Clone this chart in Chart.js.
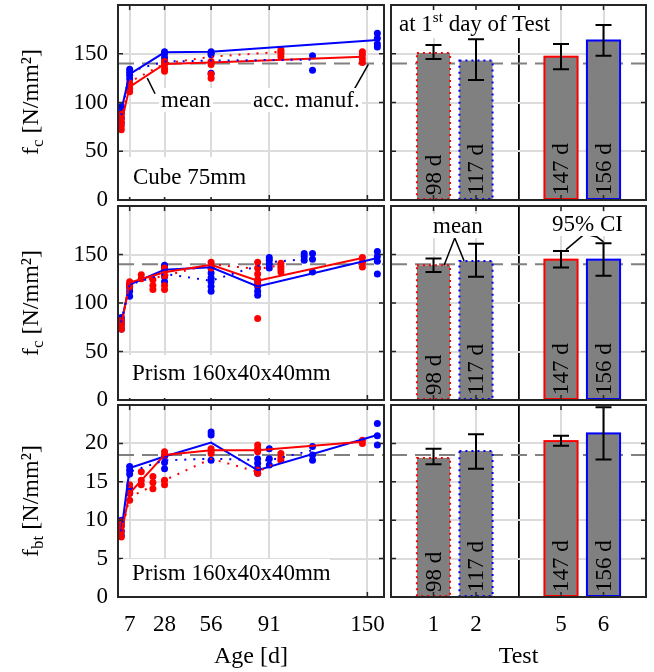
<!DOCTYPE html>
<html>
<head>
<meta charset="utf-8">
<script src="https://cdn.jsdelivr.net/npm/chart.js@4.4.1/dist/chart.umd.min.js"></script>
<style>
body { margin: 0; background: #fff; width: 654px; height: 672px; position: relative; overflow: hidden;
       font-family: 'Liberation Serif', 'Times New Roman', serif; }
canvas { position: absolute; }
.box { position: absolute; background: #fff; font-size: 23px; white-space: nowrap; color: #000; }
.yt { position: absolute; width: 200px; height: 30px; line-height: 30px; text-align: center;
      font-size: 24px; transform: rotate(-90deg); white-space: nowrap; }
.yt sub { font-size: 17px; vertical-align: -5px; }
sup { font-size: 15px; vertical-align: 9px; line-height: 0; }
</style>
</head>
<body>
<canvas id="bendAge" style="left:0;top:402px;width:386px;height:270px" width="386" height="270"></canvas>
<canvas id="bendTest" style="left:389px;top:402px;width:259px;height:270px" width="259" height="270"></canvas>
<canvas id="prismAge" style="left:0;top:203px;width:386px;height:213px" width="386" height="213"></canvas>
<canvas id="prismTest" style="left:389px;top:203px;width:259px;height:213px" width="259" height="213"></canvas>
<canvas id="cubeAge" style="left:0;top:0;width:386px;height:216px" width="386" height="216"></canvas>
<canvas id="cubeTest" style="left:389px;top:0;width:259px;height:216px" width="259" height="216"></canvas>

<div class="yt" style="left:-70px;top:87px">f<sub>c</sub> [N/mm²]</div>
<div class="yt" style="left:-70px;top:288px">f<sub>c</sub> [N/mm²]</div>
<div class="yt" style="left:-70px;top:486px">f<sub>bt</sub> [N/mm²]</div>

<div class="box" style="left:121px;top:157px;width:122px;height:40px;line-height:40px;padding-left:12px;box-sizing:border-box">Cube 75mm</div>
<div class="box" style="left:121px;top:355px;width:209px;height:43px;line-height:36px;padding-left:11px;box-sizing:border-box">Prism 160x40x40mm</div>
<div class="box" style="left:121px;top:559px;width:209px;height:37px;line-height:28px;padding-left:11px;box-sizing:border-box">Prism 160x40x40mm</div>

<div class="box" style="left:159px;top:88px;line-height:24px;padding:0 2px">mean</div>
<div class="box" style="left:251px;top:88px;line-height:24px;padding:0 2px">acc. manuf.</div>
<div class="box" style="left:396px;top:10px;line-height:28px;padding:0 3px">at 1<sup>st</sup> day of Test</div>
<div class="box" style="left:431px;top:214px;line-height:24px;padding:0 2px">mean</div>
<div class="box" style="left:550px;top:212px;line-height:24px;padding:0 2px">95% CI</div>

<script>
// ---- data ----
const ageTicks = [7, 28, 56, 91, 150];
const testLabels = ['', '1', '2', '', '5', '6', ''];
const testAges = ['98 d', '117 d', '147 d', '156 d'];

// Cube 75mm, f_c: mean curves per test (1, 2 dotted; 5, 6 solid)
const cubeT1Age = [2, 7, 28, 56, 98];
const cubeT1 = [82, 121, 140, 147, 152];
const cubeT2Age = [2, 7, 28, 56, 117];
const cubeT2 = [87, 132, 142, 143, 144];
const cubeT5Age = [2, 7, 28, 56, 147];
const cubeT5 = [79, 116, 139.5, 141, 147];
const cubeT6Age = [2, 7, 28, 56, 156];
const cubeT6 = [92, 129, 151.5, 152, 164];
// single specimens
const cubeRedAge = [2, 2, 2, 2, 2, 7, 7, 7, 7, 28, 28, 28, 28, 56, 56, 56, 56, 98, 98, 98, 98, 147, 147, 147, 147];
const cubeRed = [72, 76, 80, 84, 88, 111, 114, 118, 120, 132, 135, 139, 142, 125, 129, 139, 142, 147, 150, 152, 154, 141, 145, 149, 152];
const cubeBlueAge = [2, 2, 2, 2, 7, 7, 7, 7, 28, 28, 28, 28, 56, 56, 56, 56, 117, 117, 156, 156, 156, 156];
const cubeBlue = [79, 84, 90, 96, 124, 128, 131, 134, 142, 146, 150, 152, 130, 149, 151, 152, 133, 148, 157, 160, 166, 171];
// at 1st day of test: mean and 95% CI
const cubeMean = [150.7, 143, 147, 163.6];
const cubeLo = [144.6, 123, 134, 148];
const cubeHi = [159, 165, 160, 179.6];
const cubeRef = 140;

// Prism 160x40x40mm, f_c
const prismT1Age = [2, 7, 28, 56, 84, 98];
const prismT1 = [77, 121, 128, 140, 135, 139];
const prismT2Age = [2, 7, 28, 56, 91, 117];
const prismT2 = [80, 119, 130, 123, 142, 146];
const prismT5Age = [2, 7, 28, 56, 84, 147];
const prismT5 = [77, 121, 131.6, 139.5, 123, 146.3];
const prismT6Age = [2, 7, 28, 56, 84, 156];
const prismT6 = [80, 119, 134.4, 136.8, 117, 146.3];
const prismRedAge = [2, 2, 2, 2, 7, 7, 7, 14, 14, 21, 21, 21, 28, 28, 28, 28, 28, 56, 56, 56, 84, 84, 84, 84, 84, 84, 98, 98, 98, 98, 147, 147, 147];
const prismRed = [73, 76, 79, 82, 117, 119, 122, 125, 129, 114, 118, 124, 114, 118, 128, 133, 136, 136, 139, 142, 84, 119, 124, 130, 136, 142, 132, 135, 138, 141, 137, 142, 147];
const prismBlueAge = [2, 2, 2, 2, 7, 7, 7, 7, 28, 28, 28, 28, 28, 56, 56, 56, 56, 56, 56, 84, 84, 84, 84, 91, 91, 91, 91, 112, 112, 112, 117, 117, 117, 156, 156, 156, 156];
const prismBlue = [73, 78, 82, 85, 107, 112, 116, 119, 122, 127, 133, 136, 139, 112, 117, 122, 126, 131, 136, 108, 112, 117, 122, 136, 140, 144, 147, 144, 148, 151, 132, 145, 151, 130, 143, 148, 153];
const prismMean = [139, 143.4, 144.7, 144.7];
const prismLo = [132, 127, 136.6, 128];
const prismHi = [146, 161, 153.6, 161.7];
const prismRef = 140;

// Prism 160x40x40mm, f_bt
const bendT1Age = [2, 7, 28, 56, 84, 98];
const bendT1 = [8.3, 13, 15.2, 18, 16.3, 17.8];
const bendT2Age = [2, 7, 28, 56, 91, 117];
const bendT2 = [8.5, 16.3, 17.8, 18, 17.8, 19.1];
const bendT5Age = [2, 7, 28, 56, 84, 147];
const bendT5 = [8.3, 13.5, 18.5, 19.1, 19.1, 20.2];
const bendT6Age = [2, 7, 28, 56, 84, 156];
const bendT6 = [8.5, 16.8, 18.3, 20.1, 16.5, 21.1];
const bendRedAge = [2, 2, 2, 2, 7, 7, 7, 14, 14, 14, 21, 21, 21, 28, 28, 28, 28, 56, 56, 56, 84, 84, 84, 84, 84, 98, 98, 98, 147, 147];
const bendRed = [7.8, 8.5, 9.2, 9.8, 12.6, 13.5, 14.6, 14.6, 15.2, 16.3, 14.1, 14.9, 15.7, 14.6, 15.2, 18.5, 18.9, 18.7, 19.0, 19.3, 16.1, 16.5, 18.9, 19.3, 19.8, 17.8, 18.2, 18.7, 20.0, 20.4];
const bendBlueAge = [2, 2, 2, 2, 7, 7, 7, 7, 7, 28, 28, 28, 56, 56, 56, 84, 84, 84, 84, 91, 91, 91, 117, 117, 117, 156, 156, 156];
const bendBlue = [8.0, 8.6, 9.3, 10.0, 13.5, 14.1, 16.0, 16.5, 17.0, 16.7, 17.5, 18.3, 17.8, 21.1, 21.5, 16.1, 16.8, 17.4, 18.0, 17.2, 18.0, 19.3, 17.8, 18.5, 19.6, 19.8, 21.0, 22.6];
const bendMean = [18.1, 19.0, 20.3, 21.3];
const bendLo = [17.3, 16.7, 19.7, 17.9];
const bendHi = [19.3, 21.2, 21.0, 24.7];
const bendRef = 18.5;

// ---- style ----
const RED = '#ff0000', BLUE = '#0000ff', REF = '#808080', GRID = '#dcdcdc', FRAME = '#262626';
const barEdge = [RED, BLUE, RED, BLUE];
const barDotted = [true, true, false, false];
const barIdx = testLabels.map((l, i) => l ? i : -1).filter(i => i >= 0);

Chart.defaults.font.family = "'Liberation Serif', 'Times New Roman', serif";
Chart.defaults.font.size = 23;
Chart.defaults.color = '#000';
Chart.defaults.animation = false;

function pts(ages, vals) {
    return ages.map((a, i) => ({ x: a, y: vals[i] }));
}

// no extra room for half tick labels, the panels must line up
function noPad(s) {
    s.paddingTop = 0; s.paddingBottom = 0; s.paddingLeft = 0; s.paddingRight = 0;
}

// box around plot area + inward ticks
function frame(skipX) {
    return {
        id: 'frame',
        afterDraw(chart) {
            const { ctx, chartArea: a, scales } = chart;
            ctx.save();
            ctx.strokeStyle = FRAME;
            ctx.lineWidth = 1.5;
            ctx.beginPath();
            scales.x.ticks.forEach(t => {
                if (skipX && skipX(t.value)) return;
                const px = scales.x.getPixelForValue(t.value);
                ctx.moveTo(px, a.bottom); ctx.lineTo(px, a.bottom - 5);
                ctx.moveTo(px, a.top); ctx.lineTo(px, a.top + 5);
            });
            scales.y.ticks.forEach(t => {
                const py = scales.y.getPixelForValue(t.value);
                ctx.moveTo(a.left, py); ctx.lineTo(a.left + 5, py);
                ctx.moveTo(a.right, py); ctx.lineTo(a.right - 5, py);
            });
            ctx.stroke();
            ctx.lineWidth = 2;
            ctx.strokeRect(a.left, a.top, a.right - a.left, a.bottom - a.top);
            ctx.restore();
        }
    };
}

// leader lines for the annotations, in data units
function leaders(lines) {
    return {
        id: 'leaders',
        afterDraw(chart) {
            const { ctx, scales: { x, y } } = chart;
            ctx.save();
            ctx.strokeStyle = '#000';
            ctx.lineWidth = 1.5;
            lines.forEach(l => {
                ctx.beginPath();
                l.forEach(([vx, vy], i) => {
                    const px = x.getPixelForValue(vx), py = y.getPixelForValue(vy);
                    if (i) ctx.lineTo(px, py); else ctx.moveTo(px, py);
                });
                ctx.stroke();
            });
            ctx.restore();
        }
    };
}

// bar outlines, age labels and 95% CI whiskers
function barDeco(lo, hi) {
    return {
        id: 'barDeco',
        afterDatasetsDraw(chart) {
            const { ctx, chartArea: a, scales: { y } } = chart;
            const meta = chart.getDatasetMeta(1);
            barIdx.forEach((i, k) => {
                const b = meta.data[i];
                ctx.save();
                ctx.strokeStyle = barEdge[k];
                ctx.lineWidth = 2;
                ctx.setLineDash(barDotted[k] ? [2, 4] : []);
                ctx.strokeRect(b.x - b.width / 2, b.y, b.width, b.base - b.y);
                ctx.setLineDash([]);
                ctx.fillStyle = '#000';
                ctx.font = "23px 'Liberation Serif'";
                ctx.translate(b.x, a.bottom - 5);
                ctx.rotate(-Math.PI / 2);
                ctx.textAlign = 'left';
                ctx.textBaseline = 'middle';
                ctx.fillText(testAges[k], 0, 1);
                ctx.restore();

                const yl = y.getPixelForValue(lo[k]), yh = y.getPixelForValue(hi[k]);
                ctx.save();
                ctx.strokeStyle = '#000';
                ctx.lineWidth = 2;
                ctx.beginPath();
                ctx.moveTo(b.x, yl); ctx.lineTo(b.x, yh);
                ctx.moveTo(b.x - 8, yl); ctx.lineTo(b.x + 8, yl);
                ctx.moveTo(b.x - 8, yh); ctx.lineTo(b.x + 8, yh);
                ctx.stroke();
                ctx.restore();
            });
        }
    };
}

function yAxis(max, step, showTicks) {
    return {
        min: 0, max: max,
        ticks: { display: showTicks, stepSize: step, padding: 10, callback: v => v === max ? '' : v },
        grid: { color: GRID, lineWidth: 2, drawTicks: false },
        border: { display: false },
        afterFit: s => { s.width = showTicks ? 118 : 0; noPad(s); }
    };
}

function ageChart(id, o) {
    const line = (ages, vals, color, dotted) => ({
        data: pts(ages, vals), showLine: true, borderColor: color, borderWidth: 2,
        borderDash: dotted ? [2, 7] : [], pointRadius: 0, order: 1
    });
    const dots = (ages, vals, color) => ({
        data: pts(ages, vals), pointRadius: 3.5, pointBackgroundColor: color,
        pointBorderWidth: 0, showLine: false, order: 5
    });
    new Chart(document.getElementById(id), {
        type: 'scatter',
        data: {
            datasets: [
                { data: pts([0, 160], [o.ref, o.ref]), showLine: true, borderColor: REF, borderWidth: 2,
                  borderDash: [16, 8], pointRadius: 0, order: 10 },
                dots(o.redAge, o.red, RED),
                dots(o.blueAge, o.blue, BLUE),
                line(o.t1Age, o.t1, RED, true),
                line(o.t2Age, o.t2, BLUE, true),
                line(o.t5Age, o.t5, RED, false),
                line(o.t6Age, o.t6, BLUE, false)
            ]
        },
        options: {
            responsive: false,
            layout: { autoPadding: false, padding: { left: 0, right: 2, top: o.padTop, bottom: o.padBottom } },
            plugins: { legend: { display: false }, tooltip: { enabled: false } },
            scales: {
                x: {
                    type: 'linear', min: 0, max: 160,
                    afterBuildTicks: s => { s.ticks = ageTicks.map(v => ({ value: v })); },
                    ticks: { display: o.bottom, padding: 14, maxRotation: 0, autoSkip: false },
                    grid: { color: GRID, lineWidth: 2, drawTicks: false },
                    border: { display: false },
                    title: { display: o.bottom, text: 'Age [d]', font: { size: 24 }, padding: { top: 0, bottom: 1 } },
                    afterFit: s => { s.height = o.bottom ? 75 : 0; noPad(s); }
                },
                y: yAxis(o.max, o.step, true)
            }
        },
        plugins: [frame(), leaders(o.leaders || [])]
    });
}

function testChart(id, o) {
    const bars = testLabels.map(() => null);
    barIdx.forEach((i, k) => { bars[i] = o.mean[k]; });
    new Chart(document.getElementById(id), {
        type: 'bar',
        data: {
            labels: testLabels,
            datasets: [
                { type: 'line', data: testLabels.map(() => o.ref), borderColor: REF, borderWidth: 2,
                  borderDash: [16, 8], pointRadius: 0, order: 2 },
                { type: 'bar', data: bars, backgroundColor: '#808080', borderWidth: 0,
                  barPercentage: 0.78, categoryPercentage: 1, order: 1 }
            ]
        },
        options: {
            responsive: false,
            layout: { autoPadding: false, padding: { left: 2, right: 2, top: o.padTop, bottom: o.padBottom } },
            plugins: { legend: { display: false }, tooltip: { enabled: false } },
            scales: {
                x: {
                    type: 'category', offset: false,
                    ticks: { display: o.bottom, padding: 14, maxRotation: 0, autoSkip: false },
                    grid: {
                        offset: false, drawTicks: false,
                        color: c => c.index === 3 ? '#000' : (testLabels[c.index] ? GRID : 'rgba(0,0,0,0)'),
                        lineWidth: c => c.index === 3 ? 1.8 : 2
                    },
                    border: { display: false },
                    title: { display: o.bottom, text: 'Test', font: { size: 24 }, padding: { top: 0, bottom: 1 } },
                    afterFit: s => { s.height = o.bottom ? 75 : 0; noPad(s); }
                },
                y: yAxis(o.max, o.step, false)
            }
        },
        plugins: [barDeco(o.lo, o.hi), frame(v => !testLabels[v]), leaders(o.leaders || [])]
    });
}

ageChart('cubeAge', {
    max: 200, step: 50, ref: cubeRef, padTop: 5, padBottom: 16, bottom: false,
    t1Age: cubeT1Age, t1: cubeT1, t2Age: cubeT2Age, t2: cubeT2,
    t5Age: cubeT5Age, t5: cubeT5, t6Age: cubeT6Age, t6: cubeT6,
    redAge: cubeRedAge, red: cubeRed, blueAge: cubeBlueAge, blue: cubeBlue,
    leaders: [[[17.6, 125], [22.3, 109]], [[139.6, 106], [150.6, 139]]]
});
testChart('cubeTest', {
    max: 200, step: 50, ref: cubeRef, padTop: 5, padBottom: 16, bottom: false,
    mean: cubeMean, lo: cubeLo, hi: cubeHi
});
ageChart('prismAge', {
    max: 200, step: 50, ref: prismRef, padTop: 3, padBottom: 16, bottom: false,
    t1Age: prismT1Age, t1: prismT1, t2Age: prismT2Age, t2: prismT2,
    t5Age: prismT5Age, t5: prismT5, t6Age: prismT6Age, t6: prismT6,
    redAge: prismRedAge, red: prismRed, blueAge: prismBlueAge, blue: prismBlue
});
testChart('prismTest', {
    max: 200, step: 50, ref: prismRef, padTop: 3, padBottom: 16, bottom: false,
    mean: prismMean, lo: prismLo, hi: prismHi,
    leaders: [[[1.25, 139], [1.5, 167], [1.72, 143.4]],
              [[4.12, 155], [4.55, 171], [4.85, 168], [5.0, 163]]]
});
ageChart('bendAge', {
    max: 25, step: 5, ref: bendRef, padTop: 3, padBottom: 0, bottom: true,
    t1Age: bendT1Age, t1: bendT1, t2Age: bendT2Age, t2: bendT2,
    t5Age: bendT5Age, t5: bendT5, t6Age: bendT6Age, t6: bendT6,
    redAge: bendRedAge, red: bendRed, blueAge: bendBlueAge, blue: bendBlue
});
testChart('bendTest', {
    max: 25, step: 5, ref: bendRef, padTop: 3, padBottom: 0, bottom: true,
    mean: bendMean, lo: bendLo, hi: bendHi
});
</script>
</body>
</html>
